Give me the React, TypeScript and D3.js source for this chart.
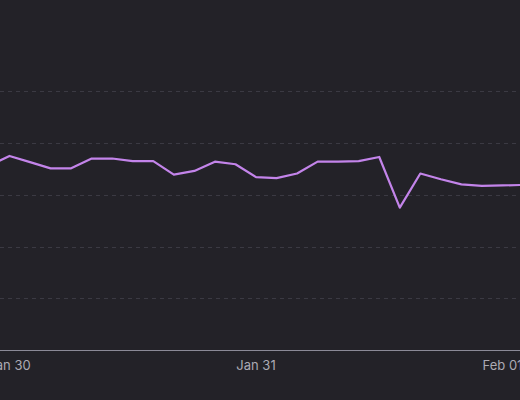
import React from "react";
import * as d3 from "d3";

const W = 520;
const H = 400;

// 2-hourly samples starting Jan 29 22:00
const startTime = new Date(2024, 0, 29, 22, 0, 0);
const values: number[] = [
  356, 375, 363, 351, 351, 370, 370, 365, 365, 339, 346, 364, 359,
  334, 332, 341, 364, 364, 365, 373, 275, 341, 330, 320, 317, 318, 319,
];
const gridTicks: number[] = [100, 200, 300, 400, 500];
const dayTicks: Date[] = [
  new Date(2024, 0, 30),
  new Date(2024, 0, 31),
  new Date(2024, 1, 1),
];
const dayLabels: string[] = ["Jan 30", "Jan 31", "Feb 01"];

export default function App() {
  const times = values.map((_, i) => d3.timeHour.offset(startTime, i * 2));
  const x = d3
    .scaleTime()
    .domain([dayTicks[0], dayTicks[2]])
    .range([9.5, 502.5]);
  const y = d3.scaleLinear().domain([0, 500]).range([350, 91.25]);
  const line = d3
    .line<number>()
    .x((_, i) => x(times[i]))
    .y((d) => y(d))
    .curve(d3.curveLinear);

  return (
    <svg
      width={W}
      height={H}
      style={{ position: "absolute", left: 0, top: 0, display: "block" }}
    >
      <rect x={0} y={0} width={W} height={H} fill="#232228" />
      {gridTicks.map((t) => (
        <line
          key={t}
          x1={0}
          x2={W}
          y1={Math.round(y(t)) + 0.5}
          y2={Math.round(y(t)) + 0.5}
          stroke="#3b3a43"
          strokeWidth={1}
          strokeDasharray="4 4"
        />
      ))}
      <line x1={0} x2={W} y1={350.5} y2={350.5} stroke="#8b8a97" strokeWidth={1.2} />
      <path
        d={line(values) ?? ""}
        fill="none"
        stroke="#c384ea"
        strokeWidth={2.2}
        strokeLinejoin="round"
      />
      {dayTicks.map((d, i) => (
        <text
          key={i}
          x={x(d)}
          y={369.5}
          textAnchor="middle"
          fill="#acaab4"
          fontFamily="Inter, 'Open Sans', sans-serif"
          fontSize={13}
        >
          {dayLabels[i]}
        </text>
      ))}
    </svg>
  );
}
